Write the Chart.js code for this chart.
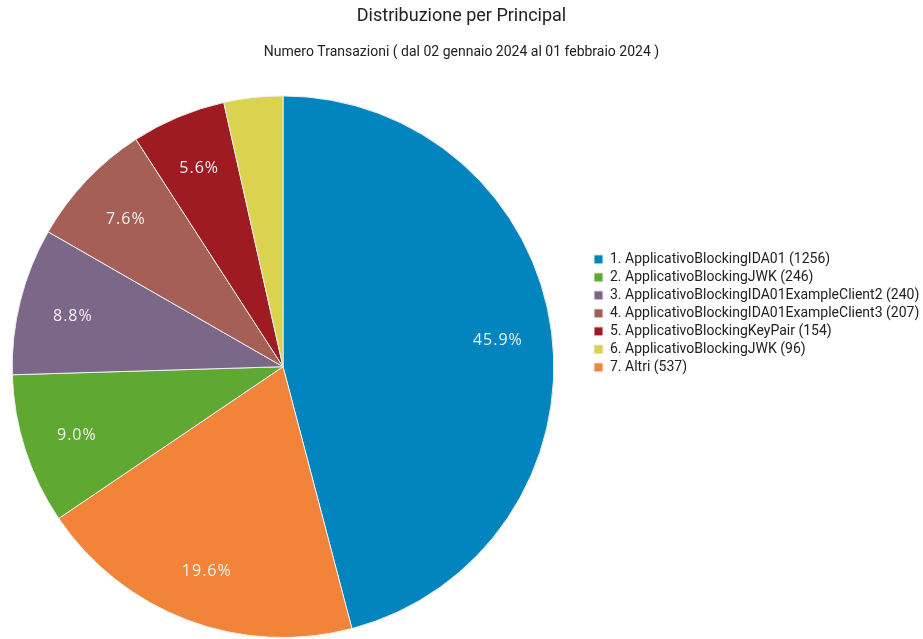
<!DOCTYPE html>
<html>
<head>
<meta charset="utf-8">
<script src="https://cdn.jsdelivr.net/npm/chart.js@4/dist/chart.umd.min.js"></script>
<style>
  html, body { margin: 0; padding: 0; background: #fff; }
  #wrap { width: 923px; height: 639px; }
</style>
</head>
<body>
<div id="wrap"><canvas id="pieChart"></canvas></div>
<script>
// principals, in the order the slices are drawn (clockwise from the top)
const principals = [
  "1. ApplicativoBlockingIDA01",
  "7. Altri",
  "2. ApplicativoBlockingJWK",
  "3. ApplicativoBlockingIDA01ExampleClient2",
  "4. ApplicativoBlockingIDA01ExampleClient3",
  "5. ApplicativoBlockingKeyPair",
  "6. ApplicativoBlockingJWK"
];
const transazioni = [1256, 537, 246, 240, 207, 154, 96];
const colori = ["#0285bf", "#f18438", "#5fa831", "#7b6888", "#a65f56", "#9d1b21", "#dbd24f"];

const totale = transazioni.reduce((a, b) => a + b, 0);
const labels = principals.map((p, i) => p + " (" + transazioni[i] + ")");

// percentuali scritte dentro le fette
const percentLabels = {
  id: "percentLabels",
  afterDatasetsDraw(chart) {
    const ctx = chart.ctx;
    const meta = chart.getDatasetMeta(0);
    ctx.save();
    ctx.font = "16px 'Open Sans'";
    ctx.letterSpacing = "1px";
    ctx.fillStyle = "#f2f2f2";
    ctx.textAlign = "center";
    ctx.textBaseline = "middle";
    meta.data.forEach((arc, i) => {
      const pct = transazioni[i] / totale * 100;
      if (pct < 5) return;
      const p = arc.getProps(["x", "y", "startAngle", "endAngle", "outerRadius"], true);
      const mid = (p.startAngle + p.endAngle) / 2;
      const r = p.outerRadius * 0.8;
      ctx.fillText(pct.toFixed(1) + "%", p.x + Math.cos(mid) * r, p.y + Math.sin(mid) * r + 2);
    });
    ctx.restore();
  }
};

// la torta occupa anche un po' di margine a sinistra
const pieArea = {
  id: "pieArea",
  afterLayout(chart) {
    const a = chart.chartArea;
    a.left -= 24;
    a.width = a.right - a.left;
  }
};

Chart.defaults.font.family = "Roboto";
Chart.defaults.color = "#222";

var ctxP = document.getElementById("pieChart").getContext("2d");
var myPieChart = new Chart(ctxP, {
  type: "pie",
  data: {
    labels: labels,
    datasets: [
      {
        data: transazioni,
        backgroundColor: colori,
        borderColor: "#eeeeee",
        borderWidth: 1,
      },
    ],
  },
  options: {
    responsive: true,
    maintainAspectRatio: false,
    animation: false,
    layout: { padding: { left: 0, right: 0, top: 0, bottom: 1 } },
    plugins: {
      title: {
        display: true,
        text: "Distribuzione per Principal",
        font: { size: 18, weight: "normal" },
        color: "#222",
        padding: { top: 6, bottom: 8 },
      },
      subtitle: {
        display: true,
        text: "Numero Transazioni ( dal 02 gennaio 2024 al 01 febbraio 2024 )",
        font: { size: 14, weight: "normal" },
        color: "#222",
        padding: { top: 8, bottom: 35 },
      },
      legend: {
        position: "right",
        align: "start",
        maxWidth: 333,
        title: { display: true, text: "", padding: { top: 0, bottom: 234 } },
        labels: {
          boxWidth: 9,
          boxHeight: 9,
          padding: 4,
          font: { size: 14 },
          color: "#222",
          sort: (a, b) => a.text.localeCompare(b.text),
        },
      },
      tooltip: { enabled: false },
    },
  },
  plugins: [percentLabels, pieArea],
});
</script>
</body>
</html>
